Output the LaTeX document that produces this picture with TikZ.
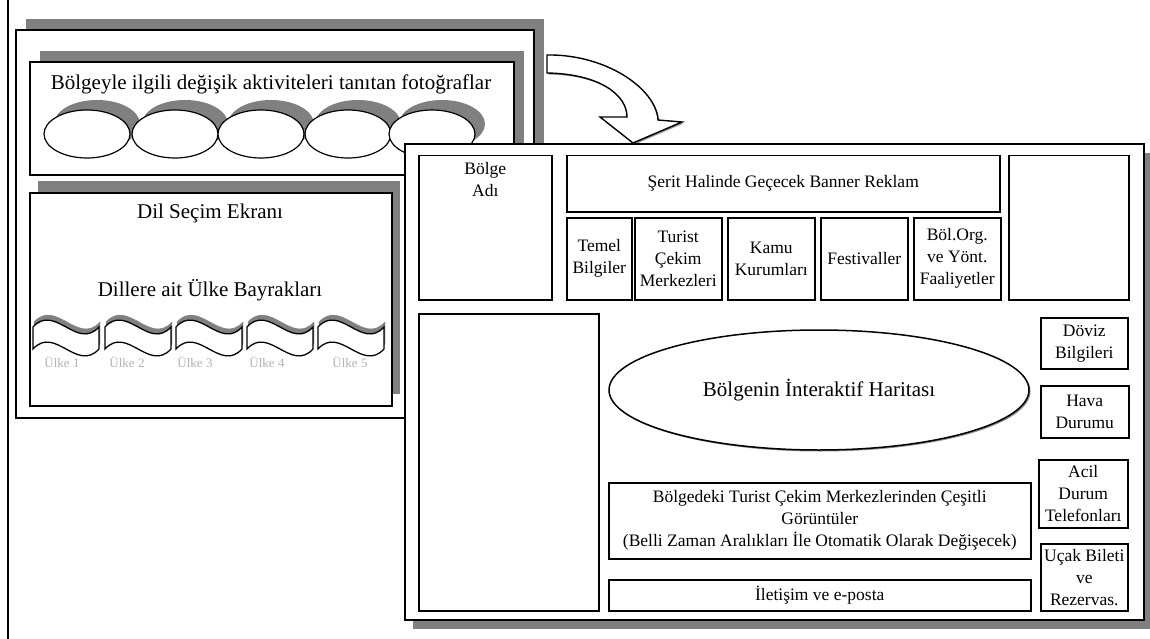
\documentclass[tikz,border=0pt]{standalone}
\usepackage{fontspec}
\setmainfont{Liberation Serif}
\usepackage{tikz}
\usetikzlibrary{positioning,shapes.geometric,shadows}

\begin{document}
\begin{tikzpicture}[x=1pt,y=-1pt,
  screen/.style={draw,line width=1.6pt,fill=white,anchor=north west,inner sep=0pt},
  panel/.style={draw,line width=1.5pt,fill=white,anchor=north west,inner sep=0pt,align=center,
    font=\fontsize{17.5}{22}\selectfont,
    general shadow={fill=black!45,shadow xshift=1.5pt,shadow yshift=-1.5pt}},
  photo/.style={ellipse,draw,line width=1.2pt,fill=white,minimum width=86pt,minimum height=48pt,inner sep=0pt,
    general shadow={fill=black!50,shadow xshift=10pt,shadow yshift=10pt}},
  title/.style={font=\fontsize{21}{25}\selectfont},
  country/.style={text=black!30,font=\fontsize{13}{15}\selectfont}]
  \useasboundingbox[fill=white] (0,0) rectangle (1150,639);
  \draw[line width=2pt] (8,0) -- (8,639);
  \node(oldscreen)[screen,minimum width=518,minimum height=388,
    general shadow={fill=black!50,shadow xshift=10pt,shadow yshift=11pt}] at (15,29) {};
  \node(photos)[screen,minimum width=484,minimum height=113,
    general shadow={fill=black!50,shadow xshift=10pt,shadow yshift=11pt}] at (29,61) {};
  \node(phototitle)[title] at (271,84) {Bölgeyle ilgili değişik aktiviteleri tanıtan fotoğraflar};
  \foreach \i/\cx in {1/87,2/175,3/261,4/348,5/432}
    \node(photo\i)[photo] at (\cx,134) {};
  \node(langs)[screen,minimum width=362,minimum height=213,
    general shadow={fill=black!50,shadow xshift=8pt,shadow yshift=12pt}] at (29,192) {};
  \node(langtitle)[title] at (210,213) {Dil Seçim Ekranı};
  \node(flagtitle)[title] at (210,290) {Dillere ait Ülke Bayrakları};
  \foreach \fx in {33,105,176,247,318} {
    \begin{scope}[shift={(\fx,327)}]
      \filldraw[fill=black!50,draw=black!50] (1,-5) .. controls (23,-29) and (45,19) .. (67,-5) -- (67,17) .. controls (45,41) and (23,-7) .. (1,17) -- cycle;
      \filldraw[fill=white,line width=1.3pt] (0,0) .. controls (22,-24) and (44,24) .. (66,0) -- (66,22) .. controls (44,46) and (22,-2) .. (0,22) -- cycle;
    \end{scope}
  }
  \foreach \i/\lx in {1/62,2/127,3/195,4/267,5/350}
    \node(country\i)[country] at (\lx,362) {Ülke \i};
  \filldraw[fill=white,line width=1.4pt,general shadow={fill=black!40,shadow xshift=1.5pt,shadow yshift=-1.5pt}]
    (547,55) .. controls (605,54) and (656,88) .. (658,120) -- (682,122) -- (633,143) -- (600,117) -- (627,117)
    .. controls (627,95) and (600,74) .. (547,73) -- cycle;
  \node(newscreen)[screen,minimum width=739,minimum height=476,
    general shadow={fill=black!50,shadow xshift=8pt,shadow yshift=-9pt}] at (404,143) {};
  \node(region)[panel,minimum width=133,minimum height=144] at (418,155) {};
  \node(regionname)[align=center,font=\fontsize{17.5}{22}\selectfont,below=4pt of region.north] {Bölge\\Adı};
  \node(banner)[panel,minimum width=433,minimum height=56] at (566,155) {Şerit Halinde Geçecek Banner Reklam};
  \node(corner)[panel,minimum width=120,minimum height=144] at (1008,155) {};
  \node(basics)[panel,minimum width=65,minimum height=82] at (566,217) {Temel\\Bilgiler};
  \node(sights)[panel,minimum width=87,minimum height=82] at (634,217) {Turist\\Çekim\\Merkezleri};
  \node(offices)[panel,minimum width=87,minimum height=82] at (727,217) {Kamu\\Kurumları};
  \node(festivals)[panel,minimum width=87,minimum height=82] at (820,217) {Festivaller};
  \node(activities)[panel,minimum width=87,minimum height=82] at (913,217) {Böl.Org.\\ve Yönt.\\Faaliyetler};
  \node(sidebar)[panel,minimum width=180,minimum height=297] at (418,313) {};
  \node(map)[panel,ellipse,anchor=center,minimum width=420,minimum height=120,font=\fontsize{21}{25}\selectfont] at (819,390) {Bölgenin İnteraktif Haritası};
  \node(currency)[panel,minimum width=87,minimum height=51] at (1040,317) {Döviz\\Bilgileri};
  \node(weather)[panel,minimum width=88,minimum height=52] at (1040,385) {Hava\\Durumu};
  \node(emergency)[panel,minimum width=89,minimum height=68] at (1038,459) {Acil\\Durum\\Telefonları};
  \node(tickets)[panel,minimum width=87,minimum height=67] at (1040,543) {Uçak Bileti\\ve\\Rezervas.};
  \node(views)[panel,minimum width=422,minimum height=76] at (608,482) {Bölgedeki Turist Çekim Merkezlerinden Çeşitli\\Görüntüler\\(Belli Zaman Aralıkları İle Otomatik Olarak Değişecek)};
  \node(contact)[panel,minimum width=422,minimum height=31] at (608,579) {İletişim ve e-posta};
\end{tikzpicture}
\end{document}
